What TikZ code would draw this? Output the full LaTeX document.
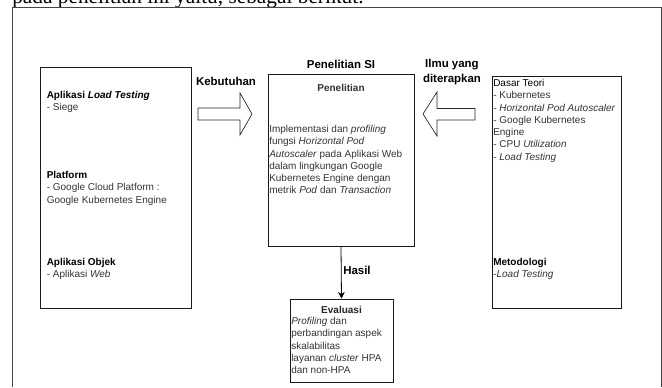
\documentclass[tikz,border=0pt]{standalone}
\usepackage{fontspec}
\setmainfont{Liberation Sans}
\newfontfamily\capfont{Liberation Serif}
\usepackage{tikz}
\usetikzlibrary{positioning,fit,arrows.meta}
\definecolor{txtgray}{HTML}{333333}
\definecolor{framegray}{HTML}{444444}

\begin{document}
\begin{tikzpicture}[x=0.75pt,y=-0.75pt,
  box/.style={draw=black!90, line width=0.6pt, inner sep=0pt},
  txt/.style={inner sep=0pt, align=left, text=txtgray, font=\fontsize{7.5}{9.2}\selectfont},
  lbl/.style={inner sep=0pt, align=center, font=\fontsize{8.6}{10.6}\selectfont\bfseries},
  blockarrow/.style={draw=black!85, line width=0.5pt, fill=white}]
  \useasboundingbox (0,0) rectangle (662,387);
  \begin{scope}
    \clip (0,0) rectangle (662,387);
    \node[inner sep=0pt, anchor=base west, font=\capfont\fontsize{16}{18}\selectfont] (cap) at (12,3.5) {pada penelitian ini yaitu, sebagai berikut.};
  \end{scope}
  \draw[framegray, line width=0.7pt] (12,387) -- (12,7) -- (661,7) -- (661,387);

  \node[box, fit={(40.7,67.3) (191.7,308.3)}] (lbox) {};
  \node[txt, anchor=north west] (lapp) at (46.5,90.5) {\textcolor{black}{\textbf{Aplikasi \textit{Load Testing}}}\\- Siege};
  \node[txt, anchor=north west] (lplat) at (46.5,171) {\textcolor{black}{\textbf{Platform}}\\- Google Cloud Platform :\\Google Kubernetes Engine};
  \node[txt, anchor=north west] (lobj) at (46.5,258) {\textcolor{black}{\textbf{Aplikasi Objek}}\\- Aplikasi \textit{Web}};

  \node[lbl] (kebutuhan) at (226,81) {Kebutuhan};
  \draw[blockarrow] (198,108) -- (240,108) -- (240,93) -- (252,114) -- (240,135) -- (240,120) -- (198,120) -- cycle;

  \node[lbl] (judul) at (341,64) {Penelitian SI};
  \node[box, fit={(268,74) (414,246)}] (cbox) {};
  \node[lbl, font=\fontsize{7.5}{9.2}\selectfont, text=txtgray] (penelitian) at (341,88) {\textbf{Penelitian}};
  \node[txt, anchor=north west] (isi) at (269,125) {Implementasi dan \textit{profiling}\\fungsi \textit{Horizontal Pod}\\\textit{Autoscaler} pada Aplikasi Web\\dalam lingkungan Google\\Kubernetes Engine dengan\\metrik \textit{Pod} dan \textit{Transaction}};

  \node[box, fit={(290,299) (393,382)}] (ebox) {};
  \draw[line width=0.6pt, -{Stealth[length=5pt,width=5pt]}] (cbox.south) -- (ebox.north);
  \node[lbl, anchor=west] (hasil) at (343,270) {Hasil};
  \node[lbl, font=\fontsize{7.5}{9.2}\selectfont\bfseries, text=black!85] (evaluasi) at (341.5,310) {Evaluasi};
  \node[txt, anchor=north west] (evalisi) at (291,317) {\textit{Profiling} dan\\perbandingan aspek\\skalabilitas\\layanan \textit{cluster} HPA\\dan non-HPA};

  \node[lbl] (ilmu) at (452,72) {Ilmu yang\\diterapkan};
  \draw[blockarrow] (475,108.5) -- (437,108.5) -- (437,92) -- (423,114) -- (437,136) -- (437,120) -- (475,120) -- cycle;

  \node[box, fit={(492,76) (621,308)}] (rbox) {};
  \node[txt, anchor=north west] (teori) at (493,79) {\textcolor{black}{Dasar Teori}\\- Kubernetes\\\textit{- Horizontal Pod Autoscaler}\\- Google Kubernetes\\Engine\\- CPU \textit{Utilization}\\- \textit{Load Testing}};
  \node[txt, anchor=north west] (metode) at (493,258) {\textcolor{black}{\textbf{Metodologi}}\\-\textit{Load Testing}};
\end{tikzpicture}
\end{document}
